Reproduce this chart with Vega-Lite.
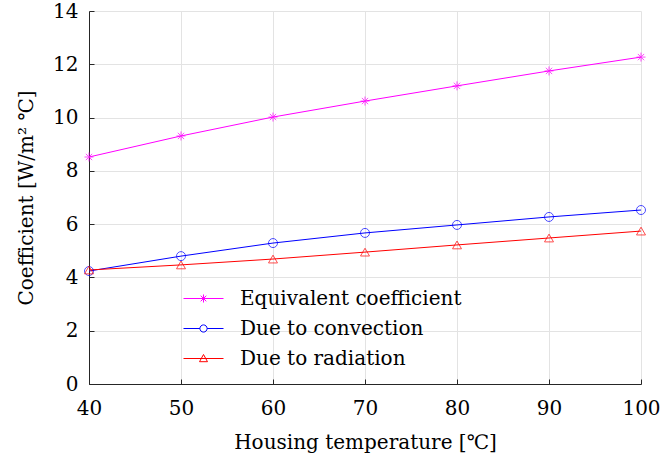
{
  "$schema": "https://vega.github.io/schema/vega-lite/v6.json",
  "width": 552,
  "height": 373,
  "autosize": "none",
  "padding": {"left": 89, "top": 11, "right": 27, "bottom": 77},
  "background": "white",
  "config": {
    "view": {"stroke": null},
    "font": "DejaVu Serif",
    "axis": {
      "labelFont": "DejaVu Serif",
      "titleFont": "DejaVu Serif",
      "labelFontSize": 20,
      "titleFontSize": 20,
      "titleFontWeight": "normal",
      "labelColor": "black",
      "titleColor": "black",
      "gridColor": "#e3e3e3",
      "gridWidth": 1,
      "domainColor": "#262626",
      "domainWidth": 1,
      "tickColor": "#262626",
      "tickSize": -5,
      "tickWidth": 1
    },
    "legend": {"labelFont": "DejaVu Serif"}
  },
  "data": {
    "values": [
      {"t": 40, "v": 8.52, "s": "Equivalent coefficient"},
      {"t": 50, "v": 9.31, "s": "Equivalent coefficient"},
      {"t": 60, "v": 10.02, "s": "Equivalent coefficient"},
      {"t": 70, "v": 10.62, "s": "Equivalent coefficient"},
      {"t": 80, "v": 11.19, "s": "Equivalent coefficient"},
      {"t": 90, "v": 11.75, "s": "Equivalent coefficient"},
      {"t": 100, "v": 12.27, "s": "Equivalent coefficient"},
      {"t": 40, "v": 4.24, "s": "Due to convection"},
      {"t": 50, "v": 4.8, "s": "Due to convection"},
      {"t": 60, "v": 5.29, "s": "Due to convection"},
      {"t": 70, "v": 5.67, "s": "Due to convection"},
      {"t": 80, "v": 5.97, "s": "Due to convection"},
      {"t": 90, "v": 6.27, "s": "Due to convection"},
      {"t": 100, "v": 6.53, "s": "Due to convection"},
      {"t": 40, "v": 4.28, "s": "Due to radiation"},
      {"t": 50, "v": 4.47, "s": "Due to radiation"},
      {"t": 60, "v": 4.69, "s": "Due to radiation"},
      {"t": 70, "v": 4.95, "s": "Due to radiation"},
      {"t": 80, "v": 5.22, "s": "Due to radiation"},
      {"t": 90, "v": 5.48, "s": "Due to radiation"},
      {"t": 100, "v": 5.74, "s": "Due to radiation"}
    ]
  },
  "encoding": {
    "x": {
      "field": "t",
      "type": "quantitative",
      "scale": {"domain": [40, 100], "nice": false, "zero": false},
      "axis": {
        "title": "Housing temperature [℃]",
        "values": [40, 50, 60, 70, 80, 90, 100],
        "labelPadding": 19,
        "titlePadding": 14,
        "labelFlush": false
      }
    },
    "y": {
      "field": "v",
      "type": "quantitative",
      "scale": {"domain": [0, 14], "nice": false},
      "axis": {
        "title": "Coefficient [W/m² ℃]",
        "values": [0, 2, 4, 6, 8, 10, 12, 14],
        "labelPadding": 16,
        "titlePadding": 16
      }
    },
    "color": {
      "field": "s",
      "type": "nominal",
      "sort": ["Equivalent coefficient", "Due to convection", "Due to radiation"],
      "scale": {
        "domain": ["Equivalent coefficient", "Due to convection", "Due to radiation"],
        "range": ["#ff00ff", "#0000ff", "#ff0000"]
      },
      "legend": {
        "title": null,
        "orient": "none",
        "legendX": 104,
        "legendY": 277,
        "padding": 0,
        "labelFontSize": 20,
        "labelColor": "black",
        "labelLimit": 0,
        "labelOffset": 26,
        "rowPadding": 9,
        "symbolSize": 400,
        "symbolStrokeWidth": 1,
        "encode": {
          "symbols": {
            "update": {
              "shape": {"signal": "datum.value === 'Equivalent coefficient' ? 'M-2,0L2,0M0,-0.4L0,0.4M-0.4,0L0.4,0M-0.28,-0.28L0.28,0.28M-0.28,0.28L0.28,-0.28' : datum.value === 'Due to convection' ? 'M-2,0L-0.36,0M0.36,0L2,0M-0.36,0A0.36,0.36 0 1,1 0.36,0A0.36,0.36 0 1,1 -0.36,0' : 'M-2,0L2,0M0,-0.4L0.4,0.32L-0.4,0.32Z'"},
              "size": {"value": 400},
              "fill": {"value": "transparent"},
              "strokeWidth": {"value": 1},
              "opacity": {"value": 1}
            }
          }
        }
      }
    }
  },
  "layer": [
    {"mark": {"type": "line", "strokeWidth": 1}},
    {
      "transform": [{"filter": "datum.s === 'Equivalent coefficient'"}],
      "mark": {"type": "point", "filled": false, "size": 81, "strokeWidth": 1, "shape": "M-1,0L1,0M0,-1L0,1M-0.7,-0.7L0.7,0.7M-0.7,0.7L0.7,-0.7"}
    },
    {
      "transform": [{"filter": "datum.s === 'Due to convection'"}],
      "mark": {"type": "point", "filled": false, "size": 81, "strokeWidth": 1, "shape": "circle"}
    },
    {
      "transform": [{"filter": "datum.s === 'Due to radiation'"}],
      "mark": {"type": "point", "filled": false, "size": 81, "strokeWidth": 1, "shape": "triangle-up"}
    }
  ]
}
